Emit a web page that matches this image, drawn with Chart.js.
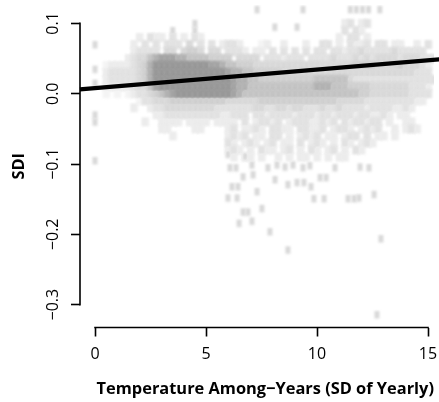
<!DOCTYPE html>
<html>
<head>
<meta charset="utf-8">
<script src="https://cdn.jsdelivr.net/npm/chart.js@4"></script>
<style>
  html, body { margin: 0; padding: 0; background: #fff; }
  canvas { display: block; }
</style>
</head>
<body>
<canvas id="sdiChart" width="439" height="402"></canvas>
<script>
const xTicks = [0, 5, 10, 15];
const yTicks = [0.1, 0, -0.1, -0.2, -0.3];
const yTickLabels = ['0.1', '0.0', '\u22120.1', '\u22120.2', '\u22120.3'];

// density of the cloud: one string per SDI row, one digit per temperature bin
const binWidth = 0.25;
const rowValues = [0.10, 0.09, 0.08, 0.07, 0.06, 0.05, 0.04, 0.03, 0.02, 0.01, 0,
    -0.01, -0.02, -0.03, -0.04, -0.05, -0.06, -0.07, -0.08, -0.09];
const densityRows = [
    '.............................................23.23',
    '.............................................3.32',
    '........2.322.3.2.32........................2.33.2',
    '.......2.3.3.333.4.3.3.2332...12..2...2..33.2.3223.33.22..2.3',
    '.......23333.44.4554.44.3332.22.3.3.3.3.33.33233433333433333',
    '......2344678887766665555.4444.3332333.33334333434344443444333',
    '..12222345799999999998876655544444444444444444455554444544432',
    '..23333345799999999999998776655555444444444444444444444444333.2',
    '..23333345799999999999999877665555555555666666433333333333333322',
    '..22222344689999999999999877666666666666777666555544444443332',
    '..1.1.1233456789999999999876666666666666666666665544444443333.2',
    '........1334445555555555444444555555555555554444433333333322',
    '.......2..233444444444333333344334434433343343333233332232',
    '...........22333333333322333.3323333233323323332332232.22',
    '.........2..2222.2222.2222.3.23323.233322323.3233233.2..22',
    '............22....22....23.2232.3322.33223.2332.2323..2.232',
    '..............2.........2323.22.33.2.2323.22.233.3.22.2',
    '........................32.232.23.22.3.232.2.32.232',
    '........................232.2.322.23.2.32.23.2.32',
    '.........................2.22.2..2.2.22.2.2.22'
];

// isolated points, mostly above and below the cloud
const sparseX = [7.3, 9.37, 11.5, 11.77, 12.05, 12.32, 12.83, 4.5, 8.1, 9.1, 3.5, 4.5, 0, 0, 0,
    5.99, 6.08, 6.35, 6.76, 7.07, 7.79, 8.20, 8.56, 8.92, 9.37, 9.68, 10.81, 11.94, 12.34,
    7.12, 6.67, 8.11, 10.14, 10.41, 6.17, 6.44, 7.30, 8.69, 9.10, 9.41, 9.73,
    5.99, 6.40, 9.86, 10.32, 11.40, 11.67, 11.89, 12.57, 6.67, 6.89, 7.52, 6.49, 7.07, 7.88, 8.69, 12.88, 12.70];
const sparseY = [0.12, 0.12, 0.12, 0.12, 0.12, 0.12, 0.12, 0.1, 0.095, 0.095, 0.09, 0.09, 0.07, 0.035, 0.015,
    -0.086, -0.105, -0.105, -0.089, -0.101, -0.105, -0.101, -0.104, -0.101, -0.105, -0.102, -0.105, -0.104, -0.105,
    -0.115, -0.118, -0.122, -0.119, -0.119, -0.132, -0.132, -0.139, -0.129, -0.126, -0.126, -0.132,
    -0.148, -0.148, -0.149, -0.149, -0.149, -0.149, -0.148, -0.143, -0.168, -0.168, -0.163, -0.184, -0.181, -0.196, -0.222, -0.206, -0.314];
const leftColumnY = [-0.03, -0.04, -0.095];

const fitX = [-0.68, 15.6];
const fitY = [0.0061, 0.0492];

const shades = ['#fff', '#f4f4f4', '#ececec', '#e2e2e2', '#d9d9d9', '#d0d0d0', '#c4c4c4', '#b2b2b2', '#a4a4a4', '#989898'];

// soft square sprite, the reference is a blurred raster
function softCell(color, w, h) {
    const c = document.createElement('canvas');
    c.width = w + 8;
    c.height = h + 8;
    const g = c.getContext('2d');
    g.filter = 'blur(1.3px)';
    g.fillStyle = color;
    g.fillRect(4, 4, w, h);
    return c;
}
const gridCells = shades.map(s => softCell(s, 7.5, 9));
const loneCell = softCell(shades[4], 5, 7.5);

const cloud = [];
densityRows.forEach((row, r) => {
    [...row].forEach((c, i) => {
        if (c !== '.') cloud.push({ x: i * binWidth, y: rowValues[r], shade: +c });
    });
});
const loners = sparseX.map((x, i) => ({ x: x, y: sparseY[i] }))
    .concat(leftColumnY.map(y => ({ x: 0, y: y })));

// white page plus darken, so neighbouring cells merge without seams.
// the axis rails only run between the first and last tick, like base R
const railPlugin = {
    id: 'rails',
    beforeDraw(chart) {
        chart.ctx.fillStyle = '#fff';
        chart.ctx.fillRect(0, 0, chart.width, chart.height);
    },
    beforeDatasetDraw(chart, args) {
        if (args.index > 0) {
            chart.ctx.save();
            chart.ctx.globalCompositeOperation = 'darken';
        }
    },
    afterDatasetDraw(chart, args) {
        if (args.index > 0) chart.ctx.restore();
    },
    afterDraw(chart) {
        const { ctx, scales } = chart;
        ctx.save();
        ctx.strokeStyle = '#000';
        ctx.lineWidth = 1.6;
        ctx.beginPath();
        ctx.moveTo(scales.x.getPixelForValue(xTicks[0]) - 0.8, scales.x.top);
        ctx.lineTo(scales.x.getPixelForValue(xTicks[3]) + 0.8, scales.x.top);
        ctx.moveTo(scales.y.right, scales.y.getPixelForValue(yTicks[0]) - 0.8);
        ctx.lineTo(scales.y.right, scales.y.getPixelForValue(yTicks[4]) + 0.8);
        ctx.stroke();
        ctx.restore();
    }
};

new Chart(document.getElementById('sdiChart'), {
    type: 'scatter',
    data: {
        datasets: [{
            type: 'line',
            data: fitX.map((x, i) => ({ x: x, y: fitY[i] })),
            borderColor: '#000',
            borderWidth: 4.2,
            pointRadius: 0,
            clip: false
        }, {
            data: cloud,
            pointStyle: ctx => gridCells[ctx.raw.shade],
            pointRadius: 5,
            borderWidth: 0
        }, {
            data: loners,
            pointStyle: loneCell,
            pointRadius: 4,
            borderWidth: 0
        }]
    },
    options: {
        responsive: false,
        animation: false,
        events: [],
        layout: { padding: { right: 5 } },
        plugins: { legend: { display: false }, tooltip: { enabled: false } },
        scales: {
            x: {
                type: 'linear',
                min: -0.676,
                max: 15.27,
                afterBuildTicks: scale => { scale.ticks = xTicks.map(v => ({ value: v })); },
                afterFit: scale => {
                    scale.height = 74.5;
                    scale.paddingLeft = 0;
                    scale.paddingRight = 0;
                },
                border: { display: false },
                grid: { drawOnChartArea: false, tickLength: 9, tickColor: '#000', tickWidth: 1.6 },
                ticks: { color: '#000', padding: 8, maxRotation: 0, autoSkip: false, font: { family: 'Open Sans', size: 16 } },
                title: {
                    display: true,
                    text: 'Temperature Among\u2212Years (SD of Yearly)',
                    align: 'end',
                    color: '#000',
                    font: { family: 'Open Sans', size: 16.4, weight: 'bold' },
                    padding: { top: 0, bottom: 3 }
                }
            },
            y: {
                type: 'linear',
                min: -0.3325,
                max: 0.1262,
                afterBuildTicks: scale => { scale.ticks = yTicks.map(v => ({ value: v })); },
                afterFit: scale => {
                    scale.width = 80;
                    scale.paddingTop = 0;
                    scale.paddingBottom = 0;
                },
                border: { display: false },
                grid: { drawOnChartArea: false, tickLength: 9, tickColor: '#000', tickWidth: 1.6 },
                ticks: {
                    color: '#000',
                    padding: 2,
                    minRotation: 90,
                    maxRotation: 90,
                    crossAlign: 'center',
                    autoSkip: false,
                    font: { family: 'Open Sans', size: 16 },
                    callback: value => yTickLabels[yTicks.indexOf(value)]
                },
                title: {
                    display: true,
                    text: 'SDI',
                    color: '#000',
                    font: { family: 'Open Sans', size: 16.4, weight: 'bold' },
                    padding: { top: 9, bottom: 0 }
                }
            }
        }
    },
    plugins: [railPlugin]
});
</script>
</body>
</html>
